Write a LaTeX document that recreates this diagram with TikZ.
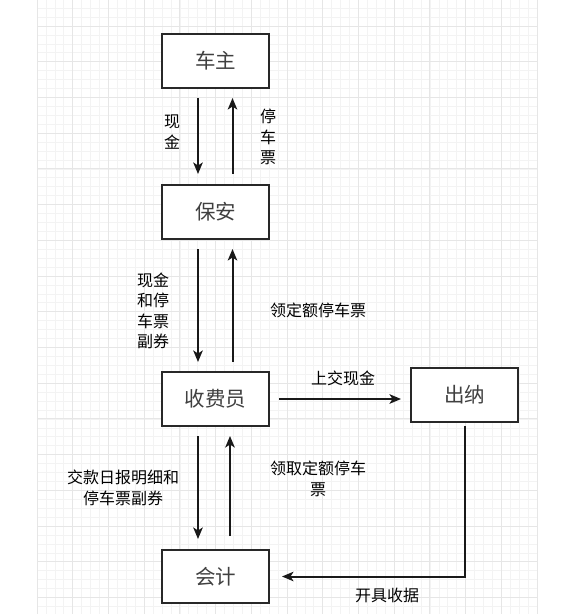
\documentclass[tikz,border=0pt]{standalone}
\usepackage{fontspec}
\setmainfont{Noto Sans CJK SC}
\usetikzlibrary{arrows.meta}
\definecolor{gridminor}{RGB}{243,243,243}
\definecolor{gridmajor}{RGB}{230,230,230}
\definecolor{boxline}{RGB}{40,40,40}
\tikzset{
  box/.style={draw=boxline, line width=2pt, fill=white, minimum width=107pt, minimum height=54pt, inner sep=0pt, text=black!75, font=\fontsize{20.5}{24}\selectfont},
  lbl/.style={align=center, inner sep=0pt, font=\fontsize{16}{20.5}\selectfont},
  arr/.style={line width=2pt, draw=black!90, -{Stealth[length=11.5pt,width=9.5pt,inset=3pt]}},
}
\begin{document}
\begin{tikzpicture}[x=1pt,y=-1pt]
\useasboundingbox (0,0) rectangle (568,614);
\fill[white] (0,0) rectangle (568,614);
% grid
\foreach \i in {0,...,56} {
  \draw[gridminor, line width=0.7pt] ({37+\i*8.93},0) -- ({37+\i*8.93},614);
}
\foreach \j in {-2,...,66} {
  \draw[gridminor, line width=0.7pt] (37,{26+\j*8.93}) -- (537,{26+\j*8.93});
}
\foreach \i in {0,...,14} {
  \draw[gridmajor, line width=0.9pt] ({37+\i*35.72},0) -- ({37+\i*35.72},614);
}
\foreach \j in {0,...,16} {
  \draw[gridmajor, line width=0.9pt] (37,{26+\j*35.72}) -- (537,{26+\j*35.72});
}
% boxes
\node[box] (cz)  at (215.5,61)   {车主};
\node[box] (ba)  at (215.5,212)  {保安};
\node[box] (sfy) at (215.5,399)  {收费员};
\node[box] (cn)  at (464.5,395)  {出纳};
\node[box, minimum height=53pt] (kj) at (215.5,576.5) {会计};
% connectors
\draw[arr] ([xshift=-17.5pt,yshift=-9pt]cz.south) -- ([xshift=-17.5pt,yshift=10pt]ba.north);
\draw[arr] ([xshift=17pt,yshift=10pt]ba.north) -- ([xshift=17pt,yshift=-9pt]cz.south);
\draw[arr] ([xshift=-17.5pt,yshift=-9pt]ba.south) -- ([xshift=-17.5pt,yshift=9pt]sfy.north);
\draw[arr] ([xshift=17pt,yshift=9pt]sfy.north) -- ([xshift=17pt,yshift=-9pt]ba.south);
\draw[arr] ([xshift=9pt]sfy.east) -- ([xshift=-9pt]sfy.east -| cn.west);
\draw[arr] ([xshift=-17.5pt,yshift=-9pt]sfy.south) -- ([xshift=-17.5pt,yshift=10pt]kj.north);
\draw[arr] ([xshift=14.5pt,yshift=13pt]kj.north) -- ([xshift=14.5pt,yshift=-9pt]sfy.south);
\coordinate (corner) at (cn.south |- kj.east);
\draw[arr] ([yshift=-3pt]cn.south) -- (corner) -- ([xshift=12pt]kj.east);
% labels
\node[lbl] (l1) at (172,132) {现\\金};
\node[lbl] (l2) at (268,137) {停\\车\\票};
\node[lbl] (l3) at (153,311) {现金\\和停\\车票\\副券};
\node[lbl] (l4) at (318,310) {领定额停车票};
\node[lbl] (l5) at (343,378) {上交现金};
\node[lbl] (l6) at (123,488) {交款日报明细和\\停车票副券};
\node[lbl] (l7) at (318,479) {领取定额停车\\票};
\node[lbl] (l8) at (387,595) {开具收据};
\end{tikzpicture}
\end{document}
